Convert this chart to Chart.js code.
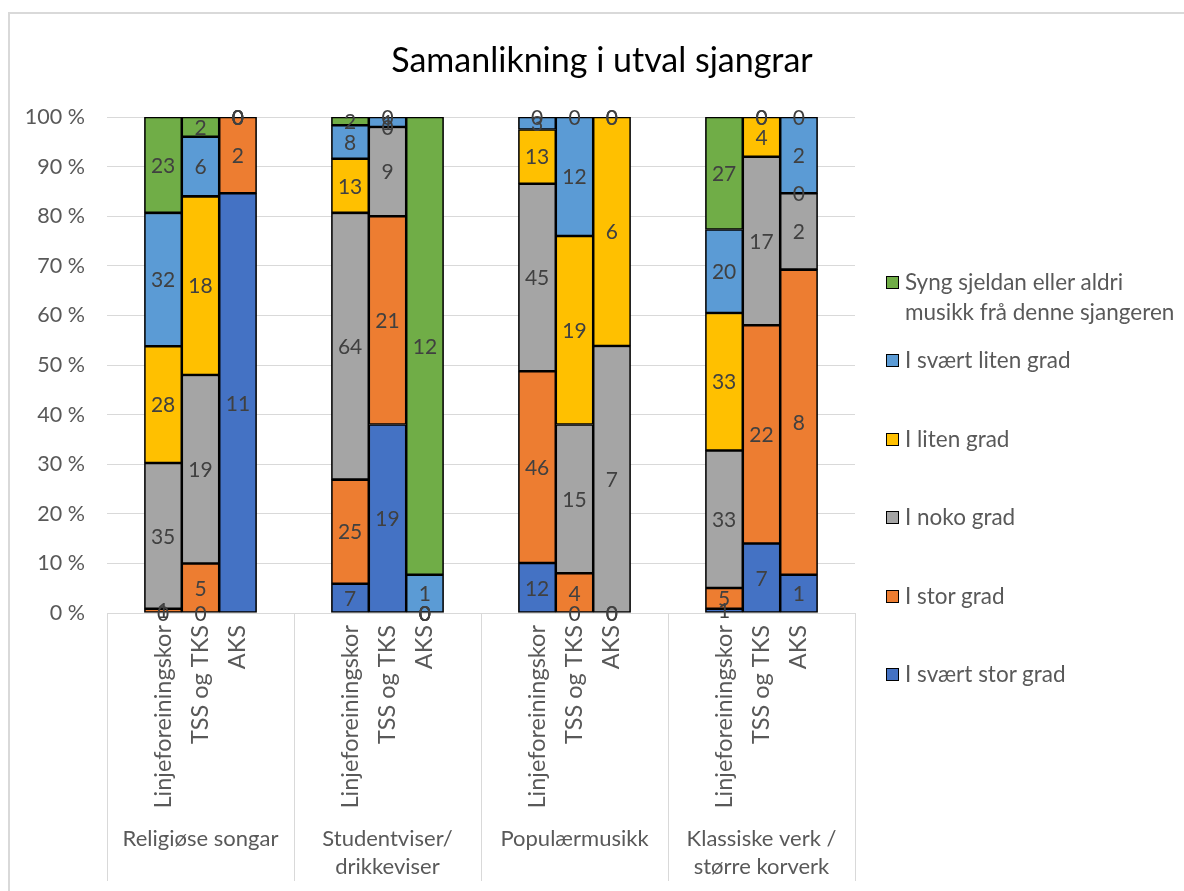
<!DOCTYPE html>
<html>
<head>
<meta charset="utf-8">
<script src="https://cdn.jsdelivr.net/npm/chart.js@4/dist/chart.umd.min.js"></script>
<style>
  html, body { margin: 0; padding: 0; background: #fff; }
  #wrap { position: relative; width: 1184px; height: 891px; overflow: hidden; font-family: Lato, "Liberation Sans", sans-serif; }
  #frame { position: absolute; left: 8px; top: 12px; width: 1400px; height: 1200px; border-left: 2px solid #d9d9d9; border-top: 2px solid #d9d9d9; box-sizing: border-box; }
  #c { position: absolute; left: 0; top: 0; }
  .lg { position: absolute; left: 886px; color: #595959; font-size: 22.5px; line-height: 30px; white-space: nowrap; }
  .lg .box { position: absolute; left: 0; top: 9px; width: 11px; height: 11px; border: 1.5px solid #000; }
  .lg .txt { position: absolute; left: 19px; top: 0; }
</style>
</head>
<body>
<div id="wrap">
  <div id="frame"></div>
  <canvas id="c" width="1184" height="891"></canvas>
  <div id="legend"></div>
</div>
<script>
// ---- data ----
const chartTitle = 'Samanlikning i utval sjangrar';
const groups = ['Religiøse songar', ['Studentviser/', 'drikkeviser'], 'Populærmusikk', ['Klassiske verk /', 'større korverk']];
const choirs = ['Linjeforeiningskor', 'TSS og TKS', 'AKS'];
const seriesNames = ['I svært stor grad', 'I stor grad', 'I noko grad', 'I liten grad', 'I svært liten grad',
  'Syng sjeldan eller aldri musikk frå denne sjangeren'];
const seriesColors = ['#4472C4', '#ED7D31', '#A5A5A5', '#FFC000', '#5B9BD5', '#70AD47'];
// counts per bar: order = group1(Linje, TSS, AKS), group2(...), group3, group4
const sværtStor   = [0, 0, 11,   7, 19, 0,   12, 0, 0,   1, 7, 1];
const stor        = [1, 5, 2,    25, 21, 0,  46, 4, 0,   5, 22, 8];
const noko        = [35, 19, 0,  64, 9, 0,   45, 15, 7,  33, 17, 2];
const liten       = [28, 18, 0,  13, 0, 0,   13, 19, 6,  33, 4, 0];
const sværtLiten  = [32, 6, 0,   8, 1, 1,    3, 12, 0,   20, 0, 2];
const sjeldan     = [23, 2, 0,   2, 0, 12,   0, 0, 0,    27, 0, 0];
const seriesCounts = [sværtStor, stor, noko, liten, sværtLiten, sjeldan];
const yTicks = [0, 10, 20, 30, 40, 50, 60, 70, 80, 90, 100];

// ---- build category slots (gap slot, 3 bars, gap slot per group) ----
const slotLabels = [];
const slotBar = []; // index into bar arrays, or null
groups.forEach((g, gi) => {
  slotLabels.push(''); slotBar.push(null);
  choirs.forEach((c, ci) => { slotLabels.push(c); slotBar.push(gi * 3 + ci); });
  slotLabels.push(''); slotBar.push(null);
});
const totals = sværtStor.map((_, b) => seriesCounts.reduce((s, arr) => s + arr[b], 0));

const datasets = seriesNames.map((name, si) => ({
  label: name,
  backgroundColor: seriesColors[si],
  borderColor: '#000',
  borderWidth: 1.6,
  borderSkipped: false,
  counts: slotBar.map(b => b === null ? null : seriesCounts[si][b]),
  data: slotBar.map(b => b === null ? null : seriesCounts[si][b] / totals[b] * 100),
  barPercentage: 1,
  categoryPercentage: 1
}));

const FONT = 'Lato, "Liberation Sans", sans-serif';

const labelPlugin = {
  id: 'segLabels',
  afterDatasetsDraw(chart) {
    const ctx = chart.ctx;
    ctx.save();
    ctx.font = '21px ' + FONT;
    ctx.fillStyle = '#404040';
    ctx.textAlign = 'center';
    ctx.textBaseline = 'middle';
    chart.data.datasets.forEach((ds, di) => {
      const meta = chart.getDatasetMeta(di);
      meta.data.forEach((el, i) => {
        const v = ds.counts[i];
        if (v === null || v === undefined) return;
        const p = el.getProps(['x', 'y', 'base'], true);
        ctx.fillText(String(v), p.x, (p.y + p.base) / 2 + 1);
      });
    });
    ctx.restore();
  }
};

const groupAxisPlugin = {
  id: 'groupAxis',
  afterDraw(chart) {
    const ctx = chart.ctx;
    const xs = chart.scales.x;
    const top = chart.chartArea.bottom;
    ctx.save();
    ctx.strokeStyle = '#d9d9d9';
    ctx.lineWidth = 1;
    const per = slotLabels.length / groups.length;
    for (let k = 0; k <= groups.length; k++) {
      const x = Math.round(xs.getPixelForValue(k * per - 0.5)) + 0.5;
      ctx.beginPath(); ctx.moveTo(x, top); ctx.lineTo(x, 881); ctx.stroke();
    }
    ctx.font = '22px ' + FONT;
    ctx.fillStyle = '#595959';
    ctx.textAlign = 'center';
    ctx.textBaseline = 'middle';
    groups.forEach((g, k) => {
      const cx = (xs.getPixelForValue(k * per - 0.5) + xs.getPixelForValue((k + 1) * per - 0.5)) / 2;
      const lines = Array.isArray(g) ? g : [g];
      lines.forEach((t, li) => ctx.fillText(t, cx, 839 + li * 28));
    });
    // title, centred on the whole figure
    ctx.font = '34px ' + FONT;
    ctx.fillStyle = '#000';
    ctx.fillText(chartTitle, chart.width / 2 + 10, 61);
    ctx.restore();
  }
};

new Chart(document.getElementById('c'), {
  type: 'bar',
  data: { labels: slotLabels, datasets },
  options: {
    responsive: false,
    animation: false,
    events: [],
    layout: { padding: { left: 0, right: 329, top: 117, bottom: 0 } },
    plugins: {
      legend: { display: false },
      tooltip: { enabled: false },
      title: { display: false }
    },
    scales: {
      x: {
        stacked: true,
        offset: true,
        grid: { display: false, drawTicks: false },
        border: { display: false },
        ticks: {
          autoSkip: false, minRotation: 90, maxRotation: 90, padding: 12,
          color: '#595959', font: { family: FONT, size: 23.5 }
        },
        afterFit(scale) { scale.height = 278; }
      },
      y: {
        stacked: true,
        min: 0, max: 100,
        afterBuildTicks(scale) { scale.ticks = yTicks.map(v => ({ value: v })); },
        grid: { color: '#d9d9d9', lineWidth: 1, drawTicks: false },
        border: { display: false },
        ticks: {
          padding: 22, color: '#595959', font: { family: FONT, size: 21.5 },
          callback: v => v + ' %'
        },
        afterFit(scale) { scale.width = 107; }
      }
    }
  },
  plugins: [labelPlugin, groupAxisPlugin]
});

// ---- legend (reverse order, as in the reference) ----
const legend = document.getElementById('legend');
const order = seriesNames.map((_, i) => i).reverse();
order.forEach((si, pos) => {
  const item = document.createElement('div');
  item.className = 'lg';
  item.style.top = (pos === 0 ? 267 : 345 + (pos - 1) * 78.5) + 'px';
  const box = document.createElement('div');
  box.className = 'box';
  box.style.background = seriesColors[si];
  const txt = document.createElement('div');
  txt.className = 'txt';
  if (si === 5) { txt.innerHTML = 'Syng sjeldan eller aldri<br>musikk frå denne sjangeren'; }
  else { txt.textContent = seriesNames[si]; }
  item.appendChild(box); item.appendChild(txt);
  legend.appendChild(item);
});
</script>
</body>
</html>
